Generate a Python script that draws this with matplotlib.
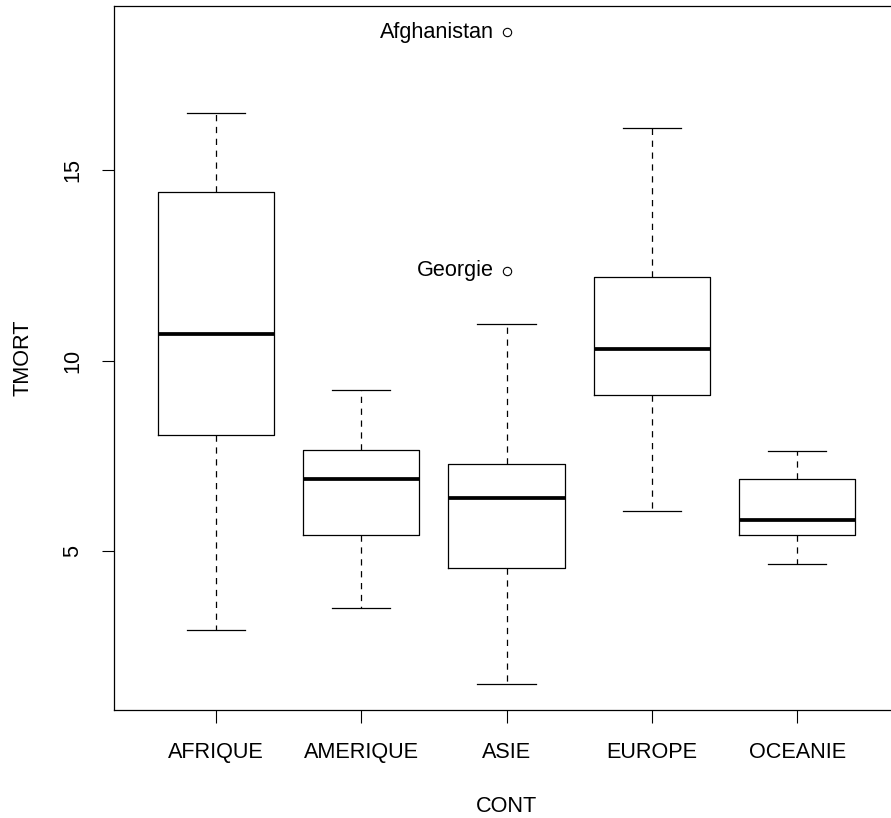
import matplotlib.pyplot as plt

plt.rcParams['font.family'] = ['Liberation Sans', 'DejaVu Sans']

# data
continents = ["AFRIQUE", "AMERIQUE", "ASIE", "EUROPE", "OCEANIE"]
whislo = [2.94, 3.51, 1.52, 6.07, 4.67]
q1 = [8.04, 5.43, 4.57, 9.09, 5.43]
med = [10.71, 6.90, 6.41, 10.30, 5.81]
q3 = [14.43, 7.65, 7.28, 12.18, 6.90]
whishi = [16.50, 9.24, 10.97, 16.10, 7.62]
outlier_cont = [3, 3]
outlier_vals = [18.61, 12.36]
outlier_names = ["Afghanistan", "Georgie"]

stats = []
for i, c in enumerate(continents):
    fl = [v for k, v in zip(outlier_cont, outlier_vals) if k == i + 1]
    stats.append(dict(label=c, whislo=whislo[i], q1=q1[i], med=med[i],
                      q3=q3[i], whishi=whishi[i], fliers=fl))

fs = 15.6
fig = plt.figure(figsize=(8.91, 8.18), dpi=100)
ax = fig.add_axes([114/891, 1 - 710/818, (899 - 114)/891, (710 - 6.3)/818])

lw = 0.9
ax.bxp(stats, widths=0.8, showfliers=True,
       boxprops=dict(color='black', lw=lw),
       medianprops=dict(color='black', lw=2.7, solid_capstyle='butt'),
       whiskerprops=dict(color='black', lw=lw, linestyle=(0, (5, 4.5))),
       capprops=dict(color='black', lw=lw),
       capwidths=0.4,
       flierprops=dict(marker='o', markerfacecolor='none', markeredgecolor='black',
                       markersize=6, markeredgewidth=0.8))

for k, v, name in zip(outlier_cont, outlier_vals, outlier_names):
    ax.annotate(name, (k, v), xytext=(-9, 0), textcoords='offset points',
                ha='right', va='center', fontsize=fs)

ax.set_xlim(0.3, 5.7)
ax.set_ylim(0.84, 19.29)
ax.set_yticks([5, 10, 15])
ax.set_yticklabels(["5", "10", "15"], rotation=90, va='center')
ax.tick_params(axis='both', labelsize=fs, length=9, width=0.8, direction='out')
ax.tick_params(axis='x', pad=14)
ax.tick_params(axis='y', pad=13)
for s in ax.spines.values():
    s.set_linewidth(0.9)

ax.set_xlabel("CONT", fontsize=fs, labelpad=24)
ax.set_ylabel("TMORT", fontsize=fs, labelpad=21)

fig.savefig("out.png", dpi=100)
